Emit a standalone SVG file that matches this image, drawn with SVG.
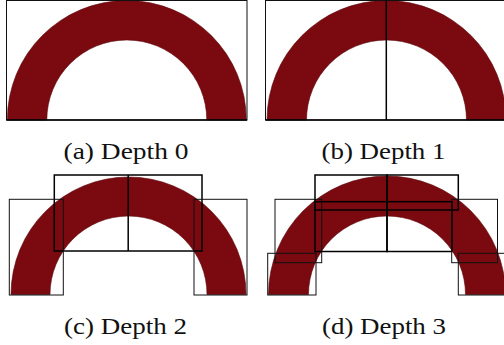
<svg xmlns="http://www.w3.org/2000/svg" width="504" height="345" viewBox="0 0 504 345">
<style>
.arch{fill:#7a0a10;stroke:#5a070c;stroke-width:0.6}
.box{fill:none;stroke:#111;stroke-width:1}
.bx{fill:none;stroke:#000;stroke-width:1.5}
.cap{font-family:"Liberation Serif","DejaVu Serif",serif;font-size:23px;fill:#111;text-anchor:middle}
</style>
<rect width="504" height="345" fill="#fff"/>
<g id="panel-a">
<path class="arch" d="M 7.3 120 A 119.5 119.5 0 0 1 246.3 120 L 206.8 120 A 80 80 0 0 0 46.8 120 Z"/>
<rect class="box" x="6.5" y="0.5" width="240.5" height="119.5" stroke="#444"/>
<line class="bx" x1="6.5" y1="120" x2="247" y2="120"/>
<text class="cap" x="126" y="159" textLength="125" lengthAdjust="spacingAndGlyphs">(a) Depth 0</text>
</g>
<g id="panel-b">
<path class="arch" d="M 267 120 A 119.5 119.5 0 0 1 506 120 L 466.5 120 A 80 80 0 0 0 306.5 120 Z"/>
<rect class="box" x="265.5" y="0.5" width="241" height="119.5"/>
<line class="bx" x1="265.5" y1="120" x2="504" y2="120"/>
<line class="bx" x1="386.3" y1="0.5" x2="386.3" y2="120"/>
<text class="cap" x="383.5" y="159" textLength="124" lengthAdjust="spacingAndGlyphs">(b) Depth 1</text>
</g>
<g id="panel-c">
<path class="arch" d="M 11 294.5 A 117.5 117.5 0 0 1 246 294.5 L 207 294.5 A 78.5 78.5 0 0 0 50 294.5 Z"/>
<rect class="bx" x="54.3" y="175" width="147.7" height="76"/>
<line class="bx" x1="128.2" y1="175" x2="128.2" y2="251"/>
<rect class="box" x="9.3" y="199.3" width="54" height="95.7"/>
<rect class="box" x="194" y="199.3" width="53" height="95.7"/>
<text class="cap" x="125.5" y="334" textLength="123" lengthAdjust="spacingAndGlyphs">(c) Depth 2</text>
</g>
<g id="panel-d">
<path class="arch" d="M 268.5 294.5 A 118.5 118.5 0 0 1 505.5 294.5 L 465.5 294.5 A 78.5 78.5 0 0 0 308.5 294.5 Z"/>
<rect class="box" x="267.7" y="253.3" width="48.3" height="41.7"/>
<rect class="box" x="275" y="199.3" width="46.7" height="63.4"/>
<rect class="bx" x="315" y="175" width="72" height="35"/>
<rect class="bx" x="315" y="201.7" width="72" height="49.8"/>
<rect class="bx" x="387" y="175" width="71.3" height="35"/>
<rect class="bx" x="387" y="201.7" width="65" height="49.8"/>
<rect class="box" x="451.7" y="199.3" width="45.8" height="63.4"/>
<rect class="box" x="458.3" y="253.3" width="48" height="41.7"/>
<text class="cap" x="384" y="334" textLength="124" lengthAdjust="spacingAndGlyphs">(d) Depth 3</text>
</g>
</svg>
